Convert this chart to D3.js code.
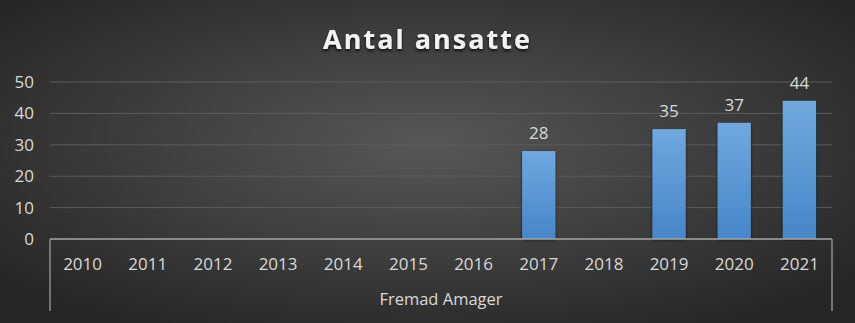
<!DOCTYPE html>
<html>
<head>
<meta charset="utf-8">
<script src="https://cdn.jsdelivr.net/npm/d3@7"></script>
<style>
  body { margin: 0; background: #262626; }
  text { font-family: "Open Sans", "Noto Sans", sans-serif; }
</style>
</head>
<body>
<svg id="chart"></svg>
<script>
var years = ["2010", "2011", "2012", "2013", "2014", "2015", "2016", "2017", "2018", "2019", "2020", "2021"]
var employees = [null, null, null, null, null, null, null, 28, null, 35, 37, 44]
var yTicks = [0, 10, 20, 30, 40, 50]
var groupLabel = "Fremad Amager"
var title = "Antal ansatte"

var width = 855, height = 323
var margin = {left: 50, right: 23, top: 82, bottom: 84}

var svg = d3.select("#chart")
    .attr("width", width)
    .attr("height", height)

var defs = svg.append("defs")
var bg = defs.append("radialGradient")
    .attr("id", "bg")
    .attr("cx", "50%").attr("cy", "45%").attr("r", "65%")
bg.append("stop").attr("offset", "0%").attr("stop-color", "#575757")
bg.append("stop").attr("offset", "100%").attr("stop-color", "#262626")

var barGrad = defs.append("linearGradient")
    .attr("id", "bar")
    .attr("x1", 0).attr("y1", 0).attr("x2", 0).attr("y2", 1)
barGrad.append("stop").attr("offset", "0%").attr("stop-color", "#70a8df")
barGrad.append("stop").attr("offset", "100%").attr("stop-color", "#4686c8")

var shadow = defs.append("filter").attr("id", "shadow")
    .attr("x", "-30%").attr("y", "-30%").attr("width", "160%").attr("height", "160%")
shadow.append("feDropShadow")
    .attr("dx", 0).attr("dy", 1).attr("stdDeviation", 1.5)
    .attr("flood-color", "#000").attr("flood-opacity", 0.6)

svg.append("rect")
    .attr("width", width).attr("height", height)
    .attr("fill", "url(#bg)")

var x = d3.scaleBand()
    .domain(years)
    .range([margin.left, width - margin.right])
    .paddingInner(0.49)
    .paddingOuter(0.245)

var y = d3.scaleLinear()
    .domain([0, 50])
    .range([239, margin.top])

// gridlines
svg.append("g")
    .selectAll("line")
    .data(yTicks.filter(d => d > 0))
    .enter()
    .append("line")
        .attr("x1", margin.left)
        .attr("x2", width - margin.right)
        .attr("y1", d => y(d))
        .attr("y2", d => y(d))
        .attr("stroke", "#5c5c5c")
        .attr("stroke-width", 1)

// y tick labels
svg.append("g")
    .selectAll("text")
    .data(yTicks)
    .enter()
    .append("text")
        .attr("x", 34)
        .attr("y", d => y(d))
        .attr("dy", "0.35em")
        .attr("text-anchor", "end")
        .attr("fill", "#d9d9d9")
        .attr("font-size", 17)
        .text(d => d)

// bars
var data = years.map((yr, i) => ({year: yr, value: employees[i]})).filter(d => d.value != null)

svg.append("g")
    .selectAll("rect")
    .data(data)
    .enter()
    .append("rect")
        .attr("x", d => x(d.year))
        .attr("y", d => y(d.value))
        .attr("width", x.bandwidth())
        .attr("height", d => y(0) - y(d.value))
        .attr("fill", "url(#bar)")
        .attr("filter", "url(#shadow)")

svg.append("g")
    .selectAll("text")
    .data(data)
    .enter()
    .append("text")
        .attr("x", d => x(d.year) + x.bandwidth() / 2)
        .attr("y", d => y(d.value) - 12)
        .attr("text-anchor", "middle")
        .attr("fill", "#d9d9d9")
        .attr("font-size", 17)
        .text(d => d.value)

// x axis and group box
var axisColor = "#a6a6a6"
svg.append("line")
    .attr("x1", margin.left).attr("x2", width - margin.right)
    .attr("y1", y(0)).attr("y2", y(0))
    .attr("stroke", axisColor).attr("stroke-width", 1.5)
svg.append("line")
    .attr("x1", margin.left).attr("x2", margin.left)
    .attr("y1", y(0)).attr("y2", 311)
    .attr("stroke", axisColor).attr("stroke-width", 1.2)
svg.append("line")
    .attr("x1", width - margin.right).attr("x2", width - margin.right)
    .attr("y1", y(0)).attr("y2", 311)
    .attr("stroke", axisColor).attr("stroke-width", 1.2)

svg.append("g")
    .selectAll("text")
    .data(years)
    .enter()
    .append("text")
        .attr("x", d => x(d) + x.bandwidth() / 2)
        .attr("y", 269.5)
        .attr("text-anchor", "middle")
        .attr("fill", "#d9d9d9")
        .attr("font-size", 17)
        .text(d => d)

svg.append("text")
    .attr("x", (margin.left + width - margin.right) / 2)
    .attr("y", 305)
    .attr("text-anchor", "middle")
    .attr("fill", "#d9d9d9")
    .attr("font-size", 16.5)
    .text(groupLabel)

// title
var titleShadow = defs.append("filter").attr("id", "tshadow")
titleShadow.append("feDropShadow")
    .attr("dx", 0).attr("dy", 2).attr("stdDeviation", 1.5)
    .attr("flood-color", "#000").attr("flood-opacity", 0.8)

svg.append("text")
    .attr("x", width / 2)
    .attr("y", 49)
    .attr("text-anchor", "middle")
    .attr("fill", "#f2f2f2")
    .attr("font-size", 27)
    .attr("font-weight", "bold")
    .attr("letter-spacing", 2)
    .attr("filter", "url(#tshadow)")
    .text(title)
</script>
</body>
</html>
